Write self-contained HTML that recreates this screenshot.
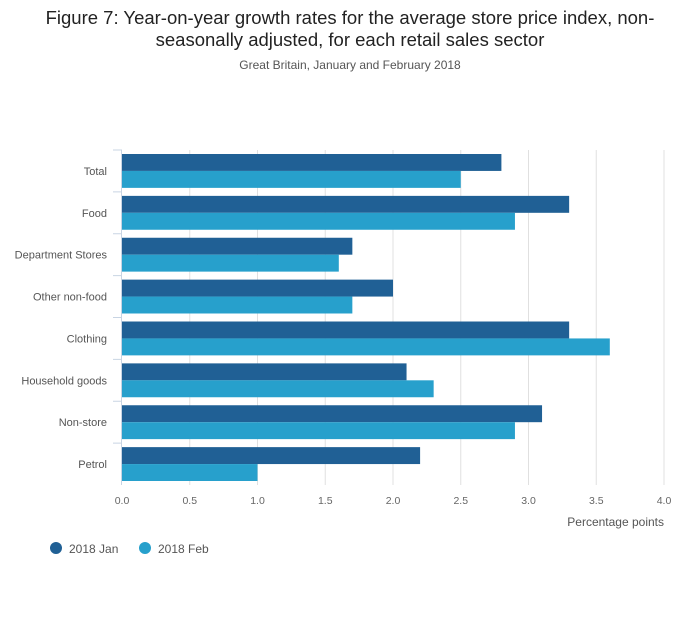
<!DOCTYPE html>
<html><head><meta charset="utf-8"><style>
body{margin:0;background:#fff;width:700px;height:635px;overflow:hidden;font-family:"Liberation Sans",sans-serif}
</style></head><body>
<svg width="700" height="635" style="font-family:'Liberation Sans',sans-serif">
<text x="350" y="24" text-anchor="middle" font-size="18.5" fill="#222">Figure 7: Year-on-year growth rates for the average store price index, non-</text>
<text x="350" y="46" text-anchor="middle" font-size="18.5" fill="#222">seasonally adjusted, for each retail sales sector</text>
<text x="350" y="69" text-anchor="middle" font-size="12" fill="#555">Great Britain, January and February 2018</text>
<g id="grid"></g><g id="bars"></g><g id="axes"></g>
<text x="664" y="526" text-anchor="end" font-size="12" fill="#555">Percentage points</text>
<g><circle cx="56" cy="548" r="6" fill="#206095"/><text x="69" y="553" font-size="12" fill="#555">2018 Jan</text></g>
<g><circle cx="145" cy="548" r="6" fill="#27a0cc"/><text x="158" y="553" font-size="12" fill="#555">2018 Feb</text></g>
</svg>
<script>
const categories=["Total","Food","Department Stores","Other non-food","Clothing","Household goods","Non-store","Petrol"];
const janValues=[2.8,3.3,1.7,2.0,3.3,2.1,3.1,2.2];
const febValues=[2.5,2.9,1.6,1.7,3.6,2.3,2.9,1.0];
const xTicks=[0,0.5,1,1.5,2,2.5,3,3.5,4];
const xTickLabels=["0.0","0.5","1.0","1.5","2.0","2.5","3.0","3.5","4.0"];
const NS="http://www.w3.org/2000/svg";
const plotX0=122,plotX1=664,plotTop=150,plotBottom=485,xMax=4;
const rowH=(plotBottom-plotTop)/categories.length;
const xs=v=>plotX0+v/xMax*(plotX1-plotX0);
function mk(tag,attrs,parent){const e=document.createElementNS(NS,tag);for(const k in attrs)e.setAttribute(k,attrs[k]);parent.appendChild(e);return e;}
const grid=document.getElementById('grid'),bars=document.getElementById('bars'),axes=document.getElementById('axes');
xTicks.forEach((t,i)=>{
 if(t>0){const l=mk('line',{x1:xs(t),x2:xs(t),y1:plotTop,y2:plotBottom,stroke:'#e0e0e0'},grid);
 
 }
 const tx=mk('text',{x:xs(t),y:504,'text-anchor':'middle','font-size':'10.5',fill:'#666'},axes);
 tx.textContent=xTickLabels[i];
 
 
});
const ax=mk('line',{x1:121.5,x2:121.5,y1:plotTop,y2:plotBottom,stroke:'#c8d4e3'},axes);


categories.forEach((c,i)=>{
 const y=plotTop+i*rowH;
 const tk=mk('line',{x1:113,x2:122,y1:y,y2:y,stroke:'#c8d4e3'},axes);
 
 
 const lb=mk('text',{x:107,y:y+rowH/2+4,'text-anchor':'end','font-size':'11',fill:'#555'},axes);
 lb.textContent=c;
 
 
 const bh=(rowH-8)/2;
 const b1=mk('rect',{x:plotX0,y:y+4,width:xs(janValues[i])-plotX0,height:bh,fill:'#206095'},bars);
 
 
 const b2=mk('rect',{x:plotX0,y:y+4+bh,width:xs(febValues[i])-plotX0,height:bh,fill:'#27a0cc'},bars);
 
 
});
</script>
</body></html>
